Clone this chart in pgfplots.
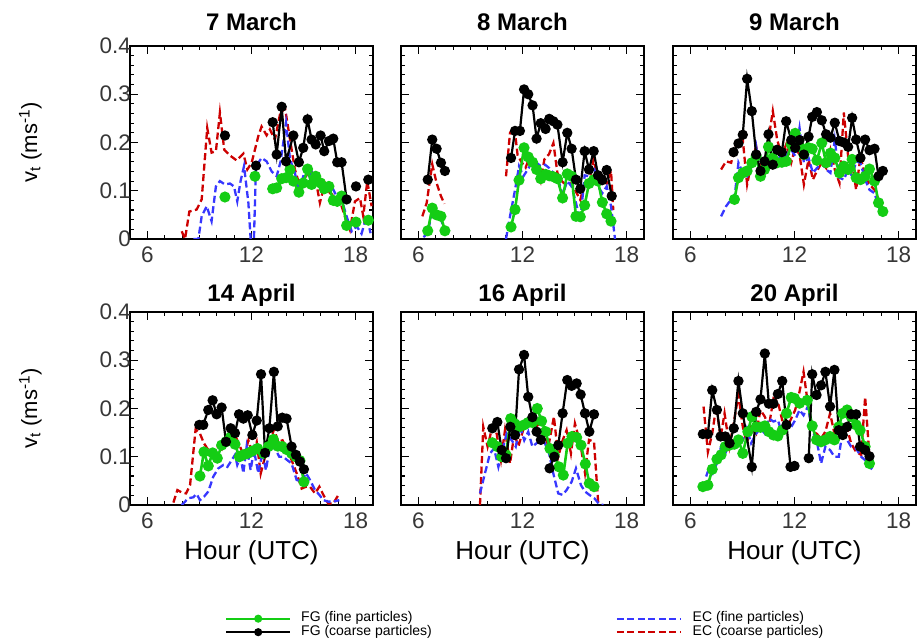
\documentclass[border=0pt]{standalone}
\usepackage{fontspec}
\setmainfont{Liberation Sans}
\usepackage{pgfplots}
\pgfplotsset{compat=1.18}
\definecolor{fggreen}{RGB}{20,205,20}
\definecolor{ecblue}{RGB}{55,55,255}
\definecolor{ecred}{RGB}{205,0,0}
\definecolor{tickgrey}{RGB}{55,55,55}
\pgfplotsset{
  sFGf/.style={color=fggreen, line width=2.6pt, mark=*, mark size=4.2pt, mark options={solid}},
  sFGc/.style={color=black, line width=2.2pt, mark=*, mark size=4pt, mark options={solid}},
  sECf/.style={color=ecblue, line width=2.3pt, dash pattern=on 7pt off 3.5pt, no marks},
  sECc/.style={color=ecred, line width=2.3pt, dash pattern=on 7pt off 3.5pt, no marks},
  panel/.style={
    scale only axis, width=243pt, height=193pt,
    xmin=5, xmax=19, ymin=0, ymax=0.4,
    xtick={6,12,18}, ytick={0,0.1,0.2,0.3,0.4},
    minor xtick={7,8,9,10,11,13,14,15,16,17},
    minor y tick num=4,
    tick align=inside, major tick length=8pt, minor tick length=4pt,
    axis line style={line width=1.4pt},
    every tick/.style={black, line width=1.1pt},
    tick label style={font=\fontsize{22.5}{22.5}\selectfont, text=tickgrey},
    /pgf/number format/assume math mode=true,
    yticklabel style={/pgf/number format/fixed, xshift=4.5pt},
    xticklabel style={yshift=-4pt},
    unbounded coords=jump,
    title style={font=\bfseries\fontsize{24}{24}\selectfont, anchor=center},
    ylabel style={font=\fontsize{22}{22}\selectfont, at={(axis description cs:-0.41,0.5)}, anchor=center, rotate=0},
    xlabel style={font=\fontsize{26}{26}\selectfont, at={(axis description cs:0.5,-0.245)}, anchor=center},
  },
  toprow/.style={title style={at={(axis description cs:0.5,1.094)}}},
  botrow/.style={title style={at={(axis description cs:0.5,1.054)}}, xlabel={Hour (UTC)}},
  noy/.style={yticklabels={}},
}
\begin{document}
\begin{tikzpicture}
\useasboundingbox (0,0) rectangle (923pt,642pt);
% ---------------- 7 March
\begin{axis}[panel, toprow, at={(130pt,403pt)}, title={7 March}, ylabel={v\textsubscript{t} (ms\textsuperscript{-1})}]
\addplot[sECc] coordinates {(7.98,0.016) (8.17,0) (8.42,0.057) (8.84,0.061) (9.13,0.082) (9.45,0.230) (9.70,0.179) (9.95,0.182) (10.18,0.262) (10.43,0.185) (10.76,0.173) (11.14,0.163) (11.53,0.177) (11.76,0.144) (12.01,0.158) (12.39,0.213) (12.58,0.233) (12.87,0.215) (13.06,0.227) (13.35,0.206) (13.64,0.258) (13.93,0.272) (14.22,0.206) (14.50,0.144) (14.79,0.109) (15.08,0.127) (15.37,0.144) (15.66,0.130) (15.94,0.075) (16.23,0.116) (16.52,0.095) (16.81,0.089) (17.10,0.078) (17.38,0.047) (17.67,0.019) (17.96,0.078) (18.25,0.085) (18.44,0.047) (18.67,0.120) (18.92,0.068)};
\addplot[sECf] coordinates {(8.65,0) (8.94,0) (9.13,0.047) (9.42,0.068) (9.70,0.037) (9.95,0.109) (10.18,0.120) (10.47,0.113) (10.76,0.115) (10.99,0.109) (11.18,0.078) (11.37,0.120) (11.57,0.151) (11.82,0.075) (11.95,0) (12.14,0) (12.26,0.151) (12.58,0.168) (12.87,0.161) (13.16,0.140) (13.45,0.130) (13.68,0.161) (13.99,0.241) (14.22,0.165) (14.50,0.137) (14.73,0.099) (14.98,0.130) (15.27,0.127) (15.46,0.140) (15.75,0.116) (16.04,0.102) (16.33,0.113) (16.62,0.109) (16.90,0.089) (17.19,0.082) (17.48,0.047) (17.77,0.016) (18.06,0.026) (18.34,0.011) (18.63,0.047) (18.86,0.012)};
\addplot[sFGf] coordinates {(10.47,0.087) (10.9,nan) (12.20,0.130) (12.7,nan) (13.22,0.104) (13.45,0.106) (13.74,0.125) (13.99,0.127) (14.22,0.144) (14.41,0.120) (14.73,0.097) (14.98,0.116) (15.23,0.145) (15.46,0.113) (15.70,0.130) (15.98,0.116) (16.19,0.104) (16.46,0.109) (16.71,0.080) (16.94,0.078) (17.19,0.089) (17.48,0.028) (17.75,nan) (18.02,0.035) (18.4,nan) (18.73,0.039)};
\addplot[sFGc] coordinates {(10.47,0.2145) (11,nan) (12.26,0.152) (12.8,nan) (13.22,0.242) (13.45,0.175) (13.74,0.274) (13.99,0.161) (14.41,0.2145) (14.73,0.159) (14.98,0.189) (15.23,0.248) (15.46,0.206) (15.70,0.196) (15.98,0.2145) (16.19,0.182) (16.46,0.203) (16.71,0.208) (16.94,0.159) (17.19,0.159) (17.48,0.082) (17.75,nan) (18.02,0.109) (18.4,nan) (18.73,0.123)};
\end{axis}
% ---------------- 8 March
\begin{axis}[panel, toprow, noy, at={(401pt,403pt)}, title={8 March}]
\addplot[sECc] coordinates {(6.23,0.047) (6.48,0.075) (6.80,0.155) (7.05,0.116) (7.30,0.089) (7.50,0.073) (9,nan) (11.05,0.130) (11.28,0.220) (11.53,0.233) (11.72,0.173) (11.95,0.159) (12.18,0.148) (12.39,0.168) (12.62,0.154) (12.85,0.147) (13.05,0.121) (13.26,0.165) (13.53,0.176) (13.78,0.199) (14.01,0.137) (14.26,0.120) (14.54,0.111) (14.83,0.116) (15.12,0.095) (15.33,0.081) (15.58,0.117) (15.83,0.115) (16.10,0.165) (16.35,0.123) (16.60,0.120) (16.85,0.115) (17.10,0.141) (17.23,0.06)};
\addplot[sECf] coordinates {(6.29,0.004) (6.54,0.011) (6.80,0.061) (7.05,0.058) (7.30,0.040) (7.53,0.019) (9,nan) (11.05,0) (11.28,0.047) (11.57,0.102) (11.80,0.151) (12.05,0.130) (12.30,0.144) (12.58,0.161) (12.81,0.158) (13.05,0.151) (13.30,0.154) (13.54,0.147) (13.78,0.137) (14.06,0.123) (14.31,0.092) (14.58,0.120) (14.83,0.109) (15.08,0.075) (15.33,0.037) (15.58,0.132) (15.83,0.130) (16.10,0.151) (16.35,0.109) (16.60,0.095) (16.85,0.109) (17.10,0.068) (17.33,0)};
\addplot[sFGf] coordinates {(6.54,0.017) (6.80,0.064) (7.05,0.050) (7.30,0.047) (7.53,0.017) (9,nan) (11.34,0.025) (11.57,0.061) (11.80,0.122) (12.09,0.189) (12.33,0.170) (12.58,0.159) (12.81,0.144) (13.05,0.125) (13.33,0.134) (13.54,0.131) (13.78,0.129) (14.01,0.125) (14.31,0.085) (14.58,0.135) (14.83,0.130) (15.08,0.047) (15.33,0.046) (15.58,0.070) (15.83,0.115) (16.10,0.123) (16.35,0.120) (16.60,0.076) (16.85,0.052) (17.10,0.037)};
\addplot[sFGc] coordinates {(6.54,0.123) (6.80,0.206) (7.05,0.187) (7.30,0.158) (7.53,0.141) (9,nan) (11.34,0.168) (11.57,0.224) (11.85,0.224) (12.09,0.310) (12.33,0.300) (12.58,0.277) (12.81,0.208) (13.05,0.240) (13.33,0.228) (13.54,0.249) (13.78,0.244) (14.01,0.237) (14.31,0.159) (14.58,0.220) (14.83,0.187) (15.08,0.123) (15.33,0.104) (15.58,0.182) (15.83,0.144) (16.10,0.182) (16.35,0.132) (16.60,0.122) (16.85,0.143) (17.14,0.089)};
\end{axis}
% ---------------- 9 March
\begin{axis}[panel, toprow, noy, at={(673pt,403pt)}, title={9 March}]
\addplot[sECc] coordinates {(7.77,0.144) (8.06,0.161) (8.35,0.158) (8.54,0.186) (8.77,0.210) (9.02,0.206) (9.27,0.113) (9.54,0.161) (9.79,0.192) (10.04,0.144) (10.27,0.137) (10.50,0.206) (10.75,0.265) (11.00,0.206) (11.27,0.172) (11.52,0.196) (11.81,0.158) (12.04,0.189) (12.29,0.175) (12.54,0.113) (12.81,0.165) (13.06,0.123) (13.29,0.141) (13.57,0.158) (13.82,0.147) (14.07,0.185) (14.32,0.144) (14.59,0.116) (14.84,0.262) (15.09,0.171) (15.32,0.158) (15.55,0.102) (15.80,0.171) (16.07,0.130) (16.32,0.113) (16.61,0.102) (16.84,0.082) (17.09,0.072)};
\addplot[sECf] coordinates {(7.77,0.047) (8.06,0.068) (8.35,0.082) (8.54,0.085) (8.77,0.158) (9.02,0.137) (9.27,0.130) (9.54,0.151) (9.79,0.192) (10.04,0.127) (10.27,0.137) (10.50,0.165) (10.75,0.185) (11.00,0.178) (11.27,0.161) (11.52,0.175) (11.81,0.185) (12.04,0.172) (12.29,0.230) (12.54,0.158) (12.81,0.168) (13.06,0.137) (13.29,0.147) (13.57,0.158) (13.82,0.144) (14.07,0.137) (14.32,0.206) (14.59,0.127) (14.84,0.123) (15.09,0.144) (15.32,0.130) (15.55,0.161) (15.80,0.158) (16.07,0.123) (16.32,0.102) (16.61,0.095) (16.84,0.068) (17.09,0.047)};
\addplot[sFGf] coordinates {(8.54,0.082) (8.77,0.127) (9.02,0.137) (9.27,0.141) (9.54,0.158) (9.79,0.172) (10.04,0.130) (10.27,0.144) (10.50,0.191) (10.75,0.168) (11.00,0.158) (11.27,0.159) (11.52,0.161) (11.81,0.196) (12.04,0.219) (12.29,0.192) (12.54,0.175) (12.81,0.189) (13.02,0.187) (13.29,0.163) (13.57,0.199) (13.82,0.158) (14.07,0.178) (14.32,0.168) (14.59,0.137) (14.84,0.151) (15.09,0.144) (15.32,0.165) (15.55,0.127) (15.80,0.123) (16.07,0.130) (16.32,0.145) (16.61,0.120) (16.84,0.075) (17.09,0.057)};
\addplot[sFGc] coordinates {(8.49,0.180) (8.77,0.198) (9.02,0.216) (9.27,0.332) (9.54,0.265) (9.79,0.175) (10.04,0.141) (10.27,0.161) (10.50,0.217) (10.75,0.154) (11.00,0.185) (11.27,0.180) (11.52,0.244) (11.81,0.205) (12.04,0.189) (12.29,0.205) (12.54,0.175) (12.81,0.212) (13.02,0.253) (13.29,0.263) (13.57,0.246) (13.82,0.217) (14.07,0.210) (14.32,0.241) (14.59,0.203) (14.84,0.200) (15.09,0.191) (15.32,0.251) (15.55,0.206) (15.80,0.168) (16.07,0.206) (16.32,0.184) (16.61,0.187) (16.84,0.130) (17.09,0.141)};
\end{axis}
% ---------------- 14 April
\begin{axis}[panel, botrow, at={(130pt,137pt)}, title={14 April}, ylabel={v\textsubscript{t} (ms\textsuperscript{-1})},
  legend columns=2,
  legend style={draw=none, fill=none, inner sep=0pt, font=\fontsize{14}{14}\selectfont,
    at={(axis description cs:0.391,-0.553)}, anchor=north west,
    nodes={inner sep=0pt, text height=10pt, text depth=3.5pt},
    cells={anchor=west},
    /tikz/column 1/.style={column sep=10pt},
    /tikz/column 2/.style={column sep=184pt},
    /tikz/column 3/.style={column sep=11pt}},
  legend image code/.code={\draw[mark repeat=2,mark phase=2,#1] plot coordinates {(0pt,0pt) (32pt,0pt) (64pt,0pt)};}]
\addlegendimage{color=fggreen, line width=2pt, mark=*, mark size=3pt, mark options={solid}}
\addlegendimage{color=ecblue, line width=1.8pt, dash pattern=on 7pt off 3.5pt}
\addlegendimage{color=black, line width=2pt, mark=*, mark size=3pt, mark options={solid}}
\addlegendimage{color=ecred, line width=1.8pt, dash pattern=on 7pt off 3.5pt}
\legend{FG (fine particles), EC (fine particles), FG (coarse particles), EC (coarse particles)}
\addplot[sECc] coordinates {(7.50,0.005) (7.73,0.031) (7.98,0.026) (8.23,0.024) (8.46,0.041) (8.78,0.157) (9.03,0.148) (9.26,0.128) (9.51,0.114) (9.76,0.107) (10.03,0.121) (10.28,0.115) (10.57,0.142) (10.80,0.148) (11.05,0.145) (11.34,0.121) (11.57,0.101) (11.82,0.134) (12.05,0.107) (12.30,0.131) (12.53,0.065) (12.78,0.100) (13.03,0.121) (13.29,0.157) (13.54,0.131) (13.79,0.134) (14.06,0.114) (14.31,0.093) (14.60,0.066) (14.89,0.034) (15.14,0.038) (15.37,0.038) (15.66,0.024) (15.91,0.038) (16.14,0.021) (16.42,0.003) (16.71,0.003) (17.06,0.024)};
\addplot[sECf] coordinates {(7.98,0) (8.36,0.014) (8.65,0.016) (8.84,0.023) (9.03,0.010) (9.26,0.017) (9.51,0.028) (9.80,0.059) (10.09,0.076) (10.38,0.083) (10.61,0.079) (10.86,0.093) (11.05,0.104) (11.18,0.083) (11.37,0.100) (11.53,0.066) (11.72,0.121) (11.95,0.072) (12.14,0.114) (12.39,0.066) (12.64,0.110) (12.83,0.072) (13.06,0.121) (13.35,0.117) (13.60,0.100) (13.83,0.100) (14.06,0.093) (14.31,0.086) (14.60,0.052) (14.89,0.048) (15.14,0.066) (15.37,0.052) (15.66,0.031) (15.91,0.021) (16.14,0.010) (16.42,0.007) (16.71,0.007) (17.06,0.010)};
\addplot[sFGf] coordinates {(9.03,0.060) (9.26,0.110) (9.51,0.081) (9.76,0.108) (10.03,0.097) (10.28,0.124) (10.53,0.131) (10.80,0.141) (11.05,0.126) (11.30,0.100) (11.53,0.104) (11.78,0.107) (12.05,0.112) (12.35,0.117) (12.68,0.107) (12.97,0.121) (13.26,0.136) (13.51,0.122) (13.77,0.121) (14.02,0.115) (14.31,0.107) (14.56,0.100) (14.79,0.092) (15.02,0.048)};
\addplot[sFGc] coordinates {(8.99,0.166) (9.22,0.166) (9.51,0.197) (9.76,0.217) (9.99,0.188) (10.28,0.202) (10.53,0.131) (10.80,0.159) (11.05,0.149) (11.28,0.188) (11.53,0.179) (11.78,0.186) (12.05,0.145) (12.30,0.175) (12.55,0.271) (12.78,0.108) (13.03,0.159) (13.29,0.276) (13.51,0.163) (13.77,0.181) (14.02,0.179) (14.31,0.121) (14.56,0.104) (14.79,0.090) (15.02,0.074)};
\end{axis}
% ---------------- 16 April
\begin{axis}[panel, botrow, noy, at={(401pt,137pt)}, title={16 April}]
\addplot[sECc] coordinates {(9.55,0) (9.74,0.162) (9.99,0.121) (10.26,0.162) (10.51,0.148) (10.76,0.093) (10.99,0.155) (11.28,0.086) (11.53,0.148) (11.76,0.121) (12.05,0.157) (12.30,0.162) (12.53,0.181) (12.76,0.162) (13.01,0.169) (13.24,0.152) (13.49,0.121) (13.81,0.183) (14.06,0.100) (14.31,0.134) (14.54,0.155) (14.79,0.107) (15.02,0.169) (15.33,0.128) (15.60,0.066) (15.83,0.135) (16.12,0.131) (16.37,0)};
\addplot[sECf] coordinates {(9.55,0.024) (9.84,0.066) (10.13,0.107) (10.36,0.117) (10.61,0.079) (10.84,0.114) (11.09,0.148) (11.38,0.134) (11.61,0.121) (11.86,0.162) (12.10,0.134) (12.33,0.152) (12.57,0.121) (12.81,0.128) (13.06,0.135) (13.29,0.128) (13.53,0.107) (13.77,0.066) (14.06,0.024) (14.31,0.021) (14.54,0.031) (14.83,0.048) (15.08,0.076) (15.37,0.041) (15.60,0.028) (15.85,0.021) (16.14,0.014) (16.41,0.002) (16.66,0)};
\addplot[sFGf] coordinates {(10.26,0.129) (10.55,0.121) (10.80,0.100) (11.05,0.104) (11.32,0.179) (11.57,0.168) (11.80,0.162) (12.09,0.166) (12.33,0.171) (12.57,0.171) (12.85,0.200) (13.10,0.174) (13.33,0.152) (13.58,0.117) (13.83,0.104) (14.10,0.079) (14.35,0.062) (14.60,0.128) (14.85,0.142) (15.12,0.140) (15.37,0.124) (15.62,0.085) (15.85,0.045) (16.12,0.038)};
\addplot[sFGc] coordinates {(10.26,0.159) (10.55,0.172) (10.80,0.114) (11.05,0.097) (11.30,0.162) (11.57,0.145) (11.80,0.281) (12.09,0.311) (12.33,0.224) (12.57,0.182) (12.81,0.152) (13.06,0.135) (13.3,nan) (13.56,0.076) (13.83,0.100) (14.06,0.124) (14.31,0.190) (14.58,0.259) (14.83,0.247) (15.12,0.252) (15.35,0.229) (15.60,0.190) (15.85,0.152) (16.12,0.188)};
\end{axis}
% ---------------- 20 April
\begin{axis}[panel, botrow, noy, at={(673pt,137pt)}, title={20 April}]
\addplot[sECc] coordinates {(6.76,0.204) (7.01,0.110) (7.26,0.148) (7.49,0.205) (7.74,0.140) (7.97,0.190) (8.25,0.121) (8.48,0.166) (8.77,0.228) (9.02,0.162) (9.25,0.128) (9.50,0.162) (9.79,0.148) (10.04,0.197) (10.29,0.183) (10.52,0.162) (10.79,0.221) (11.04,0.214) (11.29,0.176) (11.54,0.159) (11.77,0.176) (12.04,0.197) (12.29,0.235) (12.52,0.276) (12.77,0.210) (13.02,0.152) (13.27,0.148) (13.53,0.138) (13.78,0.152) (14.05,0.190) (14.30,0.148) (14.55,0.148) (14.78,0.141) (15.03,0.159) (15.26,0.128) (15.55,0.110) (15.84,0.104) (16.07,0.224) (16.32,0.100) (16.52,0.105)};
\addplot[sECf] coordinates {(6.91,0.059) (7.10,0.079) (7.29,0.066) (7.52,0.086) (7.77,0.121) (8.01,0.107) (8.26,0.128) (8.48,0.121) (8.77,0.145) (9.02,0.135) (9.25,0.159) (9.50,0.128) (9.79,0.148) (10.04,0.159) (10.29,0.148) (10.52,0.179) (10.79,0.173) (11.04,0.176) (11.29,0.148) (11.54,0.169) (11.77,0.159) (12.04,0.176) (12.29,0.197) (12.52,0.186) (12.77,0.204) (13.02,0.155) (13.27,0.135) (13.53,0.086) (13.78,0.121) (14.05,0.114) (14.30,0.100) (14.55,0.100) (14.78,0.155) (15.03,0.135) (15.26,0.121) (15.55,0.117) (15.84,0.100) (16.07,0.093) (16.32,0.079) (16.52,0.072)};
\addplot[sFGf] coordinates {(6.72,0.038) (7.01,0.041) (7.26,0.074) (7.53,0.095) (7.77,0.104) (8.01,0.121) (8.26,0.124) (8.54,0.126) (8.77,0.135) (9.02,0.107) (9.31,0.152) (9.54,0.183) (9.79,0.162) (10.04,0.161) (10.29,0.164) (10.52,0.152) (10.79,0.145) (11.04,0.143) (11.29,0.155) (11.54,0.190) (11.81,0.223) (12.00,0.221) (12.29,0.211) (12.73,0.217) (13.02,0.164) (13.27,0.135) (13.53,0.131) (13.78,0.135) (14.05,0.142) (14.30,0.135) (14.55,0.162) (14.78,0.190) (15.03,0.197) (15.26,0.183) (15.55,0.166) (15.78,0.155) (16.07,0.121) (16.32,0.086)};
\addplot[sFGc] coordinates {(6.72,0.147) (7.01,0.147) (7.26,0.238) (7.53,0.197) (7.74,0.142) (8.01,0.142) (8.26,0.128) (8.50,0.159) (8.77,0.257) (9.02,0.190) (9.54,0.079) (9.79,0.193) (10.04,0.219) (10.29,0.314) (10.52,0.210) (10.79,0.210) (11.04,0.230) (11.29,0.257) (11.54,0.166) (11.77,0.079) (12.00,0.081) (12.4,nan) (12.82,0.097) (13.02,0.271) (13.27,0.228) (13.53,0.248) (13.78,0.276) (14.05,0.204) (14.30,0.280) (14.55,0.155) (14.78,0.145) (15.03,0.162) (15.26,0.188) (15.55,0.188) (15.78,0.121) (16.07,0.114) (16.32,0.101)};
\end{axis}
\end{tikzpicture}
\end{document}
